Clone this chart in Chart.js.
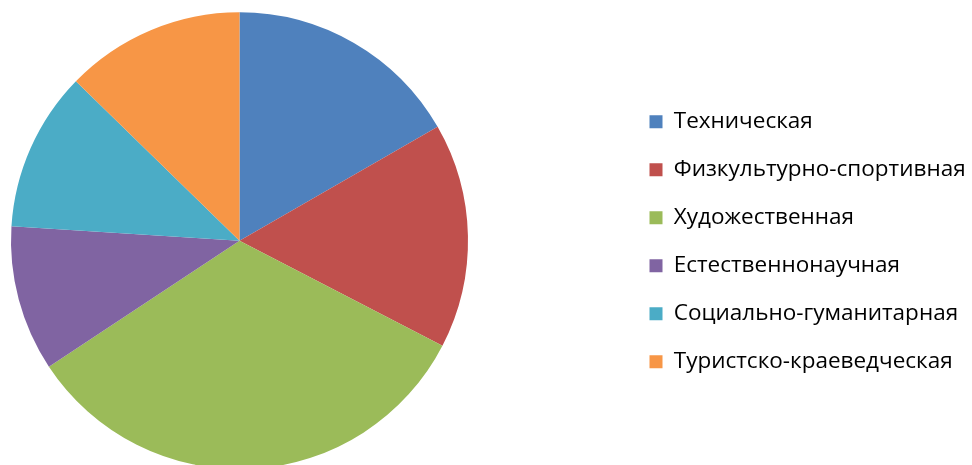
<!DOCTYPE html>
<html>
<head>
<meta charset="utf-8">
<script src="https://cdn.jsdelivr.net/npm/chart.js@4/dist/chart.umd.min.js"></script>
<style>
  html, body { margin: 0; padding: 0; background: #ffffff; overflow: hidden; }
  #wrap { width: 972px; height: 465px; overflow: hidden; position: relative; }
  canvas { display: block; }
</style>
</head>
<body>
<div id="wrap"><canvas id="c" width="972" height="465"></canvas></div>
<script>
const categories = [
  "Техническая",
  "Физкультурно-спортивная",
  "Художественная",
  "Естественнонаучная",
  "Социально-гуманитарная",
  "Туристско-краеведческая"
];
const shares = [16.7, 15.9, 33.1, 10.3, 11.3, 12.7];
const colors = ["#4F81BD", "#C0504D", "#9BBB59", "#8064A2", "#4BACC6", "#F79646"];

const placePlugin = {
  id: 'place',
  afterLayout(chart) {
    const ca = chart.chartArea;
    ca.left = 11; ca.right = 468; ca.top = 12.2; ca.bottom = 469.2;
    ca.width = ca.right - ca.left; ca.height = ca.bottom - ca.top;
    const lg = chart.legend;
    if (lg) {
      lg.left = 624; lg.right = 972; lg.width = 348;
      lg.top = 18.4; lg.bottom = 465; lg.height = lg.bottom - lg.top;
    }
  }
};

new Chart(document.getElementById('c'), {
  type: 'pie',
  data: {
    labels: categories,
    datasets: [{
      data: shares,
      backgroundColor: colors,
      borderWidth: 0,
      hoverOffset: 0
    }]
  },
  options: {
    responsive: false,
    animation: false,
    events: [],
    layout: { padding: 0 },
    plugins: {
      tooltip: { enabled: false },
      legend: {
        position: 'right',
        align: 'center',
        labels: {
          boxWidth: 13,
          boxHeight: 13,
          padding: 25.5,
          color: '#000000',
          font: { family: "'Open Sans', 'Liberation Sans', sans-serif", size: 22.5 }
        }
      }
    }
  },
  plugins: [placePlugin]
});
</script>
</body>
</html>
